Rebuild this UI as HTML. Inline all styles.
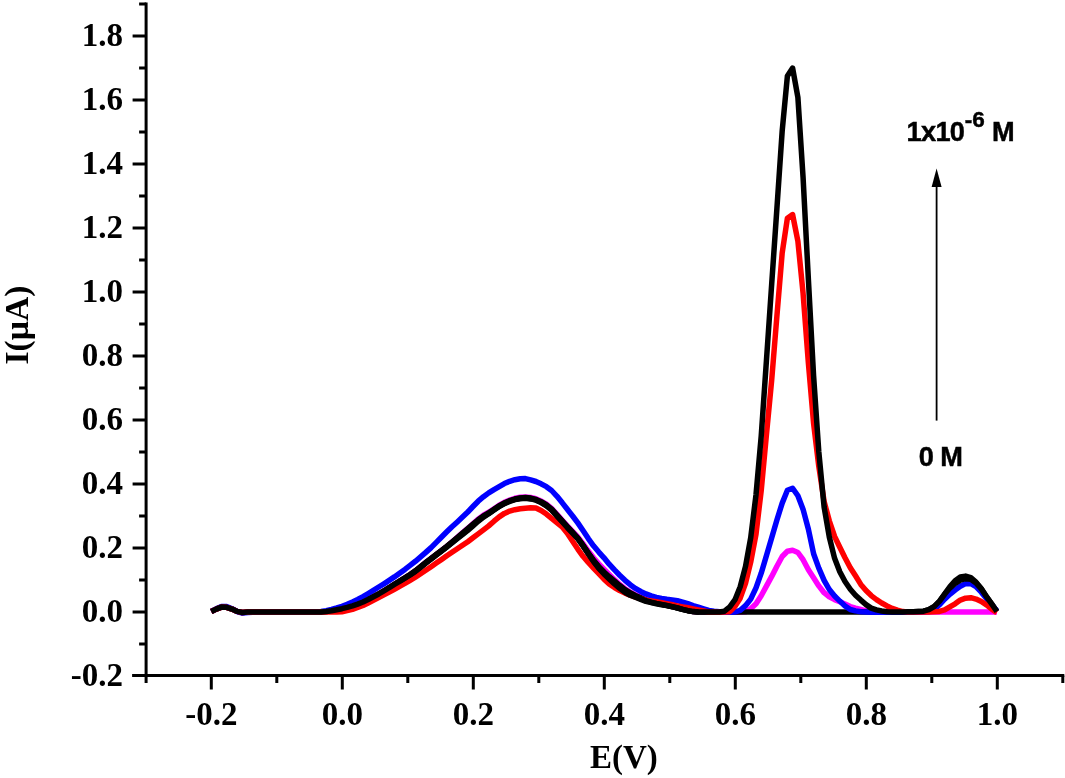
<!DOCTYPE html>
<html><head><meta charset="utf-8"><title>chart</title>
<style>
html,body{margin:0;padding:0;background:#fff;}
body{will-change:transform;width:1065px;height:778px;position:relative;overflow:hidden;font-family:"Liberation Serif",serif;font-weight:bold;color:#000;}
.yt{position:absolute;left:0;width:123px;text-align:right;font-size:33px;line-height:40px;height:40px;white-space:nowrap;}
.xt{position:absolute;top:693.5px;width:100px;text-align:center;font-size:33px;line-height:40px;height:40px;white-space:nowrap;}
.xtitle{position:absolute;left:573.8px;top:737px;width:100px;text-align:center;font-size:33px;line-height:40px;white-space:nowrap;}
.ytitle{position:absolute;left:-83px;top:304.5px;width:200px;height:40px;text-align:center;font-size:33.5px;line-height:40px;white-space:nowrap;transform:rotate(-90deg);transform-origin:50% 50%;}
.ann{position:absolute;font-family:"Liberation Sans",sans-serif;font-weight:bold;font-size:27.2px;letter-spacing:-0.7px;-webkit-text-stroke:0.45px #000;line-height:30px;white-space:nowrap;}
.ann sup{font-size:22.5px;letter-spacing:0;line-height:0;position:relative;top:-13.6px;left:0.5px;vertical-align:baseline;}
</style></head><body>
<svg width="1065" height="778" viewBox="0 0 1065 778" style="position:absolute;left:0;top:0">
<g stroke="#000" stroke-width="3.0" fill="none" stroke-linecap="butt">
<path d="M146.1,2.5 V683.0"/>
<path d="M132.1,675.6 H1064.3"/>
<path d="M139.1,644.0 H146.1 M132.6,612.0 H146.1 M139.1,580.0 H146.1 M132.6,548.0 H146.1 M139.1,516.0 H146.1 M132.6,484.0 H146.1 M139.1,452.0 H146.1 M132.6,420.0 H146.1 M139.1,388.0 H146.1 M132.6,356.0 H146.1 M139.1,324.0 H146.1 M132.6,292.0 H146.1 M139.1,260.0 H146.1 M132.6,228.0 H146.1 M139.1,196.0 H146.1 M132.6,164.0 H146.1 M139.1,132.0 H146.1 M132.6,100.0 H146.1 M139.1,68.0 H146.1 M132.6,36.0 H146.1 M139.1,4.0 H146.1 M211.3,675.6 V689.6 M276.8,675.6 V683.0 M342.3,675.6 V689.6 M407.8,675.6 V683.0 M473.3,675.6 V689.6 M538.8,675.6 V683.0 M604.3,675.6 V689.6 M669.8,675.6 V683.0 M735.3,675.6 V689.6 M800.8,675.6 V683.0 M866.3,675.6 V689.6 M931.8,675.6 V683.0 M997.3,675.6 V689.6 M1062.8,675.6 V683.0"/>
</g>
<g fill="none" stroke-width="5.5" stroke-linejoin="round" stroke-linecap="butt">
<path stroke="#ff00ff" d="M211.3,611.5 L216.2,609.1 L221.5,607.1 L226.7,607.3 L232.0,609.1 L237.2,611.4 L242.4,612.5 L247.7,612.1 L252.9,612.0 L258.2,612.0 L263.4,612.0 L268.6,612.0 L273.9,612.0 L279.1,612.0 L284.4,612.0 L289.6,612.0 L294.8,612.0 L300.1,612.0 L305.3,612.0 L310.6,612.0 L315.8,611.9 L321.0,611.9 L326.3,611.5 L331.5,610.7 L336.8,609.7 L342.0,608.7 L347.2,607.4 L352.5,605.9 L357.7,604.1 L363.0,602.0 L368.2,599.5 L373.4,596.8 L378.7,594.0 L383.9,591.0 L389.2,587.7 L394.4,584.4 L399.6,581.2 L404.9,577.9 L410.1,574.5 L415.4,570.8 L420.6,566.7 L425.8,562.5 L431.1,558.4 L436.3,554.4 L441.6,550.5 L446.8,546.4 L452.0,542.0 L457.3,537.4 L462.5,532.8 L467.8,528.3 L473.0,523.7 L478.2,519.2 L483.5,515.2 L488.7,512.2 L494.0,508.7 L499.2,505.2 L504.4,502.3 L509.7,500.0 L514.9,498.3 L520.2,497.3 L525.4,496.9 L530.6,497.4 L535.9,498.7 L541.1,501.0 L546.4,504.2 L551.6,508.4 L556.8,514.2 L562.1,520.1 L567.3,525.9 L572.6,531.5 L577.8,536.9 L583.0,543.7 L588.3,551.0 L593.5,557.7 L598.8,563.8 L604.0,569.2 L609.2,574.4 L614.5,579.6 L619.7,584.4 L625.0,588.7 L630.2,592.1 L635.4,594.7 L640.7,597.1 L645.9,599.4 L651.2,601.0 L656.4,602.3 L661.6,603.5 L666.9,604.7 L672.1,605.8 L677.4,607.1 L682.6,608.6 L687.8,610.2 L693.1,611.6 L698.3,611.8 L703.6,611.9 L708.8,612.0 L714.0,612.0 L719.3,612.0 L724.5,612.0 L729.8,612.0 L735.0,612.0 L740.2,612.0 L745.5,611.8 L750.7,608.8 L756.0,603.8 L761.2,595.7 L766.4,586.1 L771.7,576.4 L776.9,566.2 L782.2,556.5 L787.4,551.2 L792.6,550.3 L797.9,552.5 L803.1,559.7 L808.4,569.8 L813.6,577.8 L818.8,585.9 L824.1,592.7 L829.3,596.9 L834.6,599.6 L839.8,601.8 L845.0,604.1 L850.3,606.6 L855.5,608.2 L860.8,609.5 L866.0,610.8 L871.2,611.3 L876.5,611.6 L881.7,611.8 L887.0,611.9 L892.2,611.9 L897.4,611.9 L902.7,611.9 L907.9,611.9 L913.2,611.9 L918.4,611.9 L923.6,611.9 L928.9,611.9 L934.1,611.9 L939.4,611.9 L944.6,611.9 L949.8,611.9 L955.1,611.9 L960.3,611.9 L965.6,611.9 L970.8,611.9 L976.0,611.9 L981.3,611.9 L986.5,611.9 L991.8,611.9 L996.9,611.9"/>
<path stroke="#000000" d="M211.3,611.5 L216.2,609.1 L221.5,607.1 L226.7,607.3 L232.0,609.1 L237.2,611.4 L242.4,612.5 L247.7,612.1 L252.9,612.0 L258.2,612.0 L263.4,612.0 L268.6,612.0 L273.9,612.0 L279.1,612.0 L284.4,612.0 L289.6,612.0 L294.8,612.0 L300.1,612.0 L305.3,612.0 L310.6,612.0 L315.8,611.9 L321.0,611.9 L326.3,611.5 L331.5,610.7 L336.8,609.7 L342.0,608.7 L347.2,607.4 L352.5,605.9 L357.7,604.1 L363.0,602.0 L368.2,599.5 L373.4,596.8 L378.7,594.0 L383.9,591.0 L389.2,587.7 L394.4,584.4 L399.6,581.2 L404.9,577.9 L410.1,574.5 L415.4,570.8 L420.6,566.7 L425.8,562.5 L431.1,558.4 L436.3,554.4 L441.6,550.5 L446.8,546.4 L452.0,542.0 L457.3,537.5 L462.5,533.0 L467.8,528.6 L473.0,524.1 L478.2,519.8 L483.5,515.9 L488.7,512.9 L494.0,509.4 L499.2,505.9 L504.4,503.0 L509.7,500.7 L514.9,499.0 L520.2,498.0 L525.4,497.6 L530.6,498.1 L535.9,499.4 L541.1,501.7 L546.4,504.9 L551.6,509.1 L556.8,514.9 L562.1,520.8 L567.3,526.6 L572.6,532.3 L577.8,538.0 L583.0,545.2 L588.3,553.0 L593.5,560.2 L598.8,566.6 L604.0,572.0 L609.2,576.7 L614.5,581.2 L619.7,585.5 L625.0,589.6 L630.2,592.8 L635.4,595.4 L640.7,597.8 L645.9,600.1 L651.2,601.7 L656.4,603.0 L661.6,604.2 L666.9,605.4 L672.1,606.5 L677.4,607.8 L682.6,609.3 L687.8,610.6 L693.1,611.6 L698.3,612.0 L703.6,612.0 L708.8,611.9 L714.0,611.9 L719.3,611.9 L724.5,611.9 L729.8,611.9 L735.0,611.9 L740.2,611.9 L745.5,611.9 L750.7,611.9 L756.0,611.9 L761.2,611.9 L766.4,611.9 L771.7,611.9 L776.9,611.9 L782.2,611.9 L787.4,611.9 L792.6,611.9 L797.9,611.9 L803.1,611.9 L808.4,611.9 L813.6,611.9 L818.8,611.9 L824.1,611.9 L829.3,611.9 L834.6,611.9 L839.8,611.9 L845.0,611.9 L850.3,611.9 L855.5,611.9 L860.8,611.9 L866.0,611.9 L871.2,611.9 L876.5,611.9 L881.7,611.9 L887.0,611.9 L892.2,611.9 L897.4,611.9 L902.7,611.9 L907.9,611.8 L913.2,611.7 L918.4,611.5 L923.6,611.2 L928.9,609.7 L934.1,606.6 L939.4,601.4 L944.6,594.1 L949.8,586.9 L955.1,580.7 L960.3,577.0 L965.6,576.1 L970.8,577.7 L976.0,582.1 L981.3,588.8 L986.5,596.8 L991.8,604.2 L996.9,611.5"/>
<path stroke="#0000ff" d="M211.3,611.5 L216.2,608.8 L221.5,606.5 L226.7,606.6 L232.0,608.7 L237.2,611.5 L242.4,613.1 L247.7,612.5 L252.9,612.3 L258.2,612.2 L263.4,612.2 L268.6,612.1 L273.9,612.1 L279.1,612.1 L284.4,612.1 L289.6,612.1 L294.8,612.0 L300.1,612.0 L305.3,611.9 L310.6,611.8 L315.8,611.7 L321.0,611.4 L326.3,610.7 L331.5,609.4 L336.8,607.9 L342.0,606.3 L347.2,604.3 L352.5,601.9 L357.7,599.4 L363.0,596.6 L368.2,593.5 L373.4,590.3 L378.7,587.0 L383.9,583.8 L389.2,580.4 L394.4,576.9 L399.6,573.2 L404.9,569.4 L410.1,565.4 L415.4,561.3 L420.6,556.9 L425.8,552.4 L431.1,547.6 L436.3,542.4 L441.6,537.0 L446.8,531.8 L452.0,526.8 L457.3,522.0 L462.5,517.1 L467.8,512.0 L473.0,506.5 L478.2,501.2 L483.5,496.7 L488.7,492.9 L494.0,489.6 L499.2,486.6 L504.4,483.6 L509.7,481.3 L514.9,479.7 L520.2,478.7 L525.4,478.6 L530.6,479.9 L535.9,481.5 L541.1,483.8 L546.4,486.7 L551.6,490.5 L556.8,496.1 L562.1,502.6 L567.3,509.3 L572.6,516.0 L577.8,522.9 L583.0,530.5 L588.3,538.6 L593.5,545.8 L598.8,552.1 L604.0,557.8 L609.2,564.2 L614.5,569.9 L619.7,575.2 L625.0,580.3 L630.2,584.7 L635.4,588.4 L640.7,591.4 L645.9,593.9 L651.2,595.9 L656.4,597.4 L661.6,598.5 L666.9,599.3 L672.1,599.9 L677.4,600.7 L682.6,602.1 L687.8,603.7 L693.1,605.6 L698.3,607.1 L703.6,608.8 L708.8,610.4 L714.0,611.2 L719.3,611.8 L724.5,612.3 L729.8,612.2 L735.0,612.0 L740.2,610.3 L745.5,605.7 L750.7,599.1 L756.0,587.8 L761.2,573.2 L766.4,555.7 L771.7,537.7 L776.9,519.9 L782.2,503.1 L787.4,490.3 L792.6,488.2 L797.9,495.8 L803.1,509.4 L808.4,529.3 L813.6,553.7 L818.8,568.1 L824.1,580.3 L829.3,589.5 L834.6,596.0 L839.8,601.1 L845.0,605.9 L850.3,609.5 L855.5,610.9 L860.8,611.7 L866.0,612.0 L871.2,612.2 L876.5,612.3 L881.7,612.3 L887.0,612.3 L892.2,612.3 L897.4,612.3 L902.7,612.3 L907.9,612.3 L913.2,612.2 L918.4,612.2 L923.6,612.1 L928.9,611.6 L934.1,609.6 L939.4,604.8 L944.6,599.2 L949.8,594.3 L955.1,590.0 L960.3,586.3 L965.6,583.6 L970.8,583.7 L976.0,586.6 L981.3,592.2 L986.5,598.6 L991.8,604.8 L997.0,611.1 L997.2,611.3"/>
<path stroke="#ff0000" d="M211.3,611.5 L216.2,609.1 L221.5,607.1 L226.7,607.3 L232.0,609.1 L237.2,611.4 L242.4,612.5 L247.7,612.1 L252.9,612.0 L258.2,612.0 L263.4,612.0 L268.6,612.0 L273.9,612.0 L279.1,612.0 L284.4,612.0 L289.6,612.0 L294.8,612.0 L300.1,612.0 L305.3,612.0 L310.6,612.0 L315.8,612.0 L321.0,612.0 L326.3,612.0 L331.5,612.0 L336.8,612.0 L342.0,611.7 L347.2,610.6 L352.5,609.3 L357.7,607.5 L363.0,605.4 L368.2,602.9 L373.4,600.3 L378.7,597.6 L383.9,594.9 L389.2,592.1 L394.4,589.3 L399.6,586.4 L404.9,583.4 L410.1,580.3 L415.4,577.1 L420.6,573.7 L425.8,570.3 L431.1,566.7 L436.3,563.1 L441.6,559.4 L446.8,555.7 L452.0,552.2 L457.3,548.8 L462.5,545.3 L467.8,541.7 L473.0,537.8 L478.2,533.9 L483.5,529.9 L488.7,525.9 L494.0,521.2 L499.2,516.9 L504.4,513.4 L509.7,511.1 L514.9,509.7 L520.2,508.8 L525.4,508.2 L530.6,507.8 L535.9,507.9 L541.1,510.4 L546.4,514.1 L551.6,518.4 L556.8,522.5 L562.1,526.8 L567.3,533.2 L572.6,541.2 L577.8,549.1 L583.0,556.3 L588.3,562.5 L593.5,568.1 L598.8,573.7 L604.0,579.2 L609.2,583.9 L614.5,587.6 L619.7,590.6 L625.0,593.1 L630.2,595.2 L635.4,597.1 L640.7,598.7 L645.9,600.1 L651.2,601.0 L656.4,601.8 L661.6,602.7 L666.9,603.7 L672.1,604.8 L677.4,605.9 L682.6,606.9 L687.8,607.8 L693.1,608.9 L698.3,609.9 L703.6,611.0 L708.8,612.0 L714.0,612.1 L719.3,612.2 L724.5,612.1 L729.8,611.7 L735.0,606.3 L740.2,598.2 L745.5,583.3 L750.7,562.2 L756.0,534.2 L761.2,490.7 L766.4,435.1 L771.7,380.1 L776.9,316.1 L782.2,252.8 L787.4,218.2 L792.6,214.6 L797.9,241.2 L803.1,293.6 L808.4,363.4 L813.6,423.5 L818.8,466.4 L824.1,501.4 L829.3,520.8 L834.6,536.5 L839.8,547.3 L845.0,557.7 L850.3,567.7 L855.5,575.8 L860.8,584.4 L866.0,590.6 L871.2,595.6 L876.5,599.6 L881.7,603.0 L887.0,605.9 L892.2,608.4 L897.4,610.2 L902.7,611.6 L907.9,612.0 L913.2,612.0 L918.4,612.0 L923.6,612.0 L928.9,611.9 L934.1,611.8 L939.4,611.4 L944.6,609.9 L949.8,606.9 L955.1,603.8 L960.3,600.1 L965.6,598.2 L970.8,597.7 L976.0,599.1 L981.3,601.5 L986.5,604.9 L991.8,609.2 L996.9,612.6"/>
<path stroke="#000000" d="M400.0,581.0 L404.9,578.0 L410.1,574.7 L415.4,571.1 L420.6,567.0 L425.8,562.8 L431.1,558.7 L436.3,554.7 L441.6,550.7 L446.8,546.7 L452.0,542.5 L457.3,538.1 L462.5,533.8 L467.8,529.4 L473.0,524.9 L478.2,520.5 L483.5,516.5 L488.7,513.4 L494.0,509.7 L499.2,506.2 L504.4,503.3 L509.7,501.0 L514.9,499.3 L520.2,498.3 L525.4,498.0 L530.6,498.5 L535.9,499.8 L541.1,502.2 L546.4,505.4 L551.6,509.6 L556.8,515.3 L562.1,521.2 L567.3,527.0 L572.6,532.7 L577.8,538.4 L583.0,545.6 L588.3,553.4 L593.5,560.8 L598.8,567.5 L604.0,573.0 L609.2,577.8 L614.5,582.6 L619.7,586.9 L625.0,591.0 L630.2,594.1 L635.4,596.4 L640.7,598.6 L645.9,600.7 L651.2,602.2 L656.4,603.4 L661.6,604.4 L666.9,605.5 L672.1,606.6 L677.4,607.9 L682.6,609.4 L687.8,610.6 L693.1,611.6 L698.3,612.0 L698.7,612.0"/>
<path stroke="#000000" d="M211.3,611.5 L216.2,609.1 L221.5,607.1 L226.7,607.3 L232.0,609.1 L237.2,611.4 L242.4,612.5 L247.7,612.1 L252.9,612.0 L258.2,612.0 L263.4,612.0 L268.6,612.0 L273.9,612.0 L279.1,612.0 L284.4,612.0 L289.6,612.0 L294.8,612.0 L300.1,612.0 L305.3,612.0 L310.6,612.0 L315.8,611.9 L321.0,611.9 L326.3,611.5 L331.5,610.7 L336.8,609.7 L342.0,608.7 L347.2,607.4 L352.5,605.9 L357.7,604.1 L363.0,602.0 L368.2,599.5 L373.4,596.8 L378.7,594.0 L383.9,590.9 L389.2,587.7 L394.4,584.4 L399.6,581.3 L404.9,578.2 L410.1,575.0 L415.4,571.4 L420.6,567.4 L425.8,563.1 L431.1,559.0 L436.3,555.0 L441.6,551.0 L446.8,547.0 L452.0,542.9 L457.3,538.7 L462.5,534.6 L467.8,530.3 L473.0,525.8 L478.2,521.2 L483.5,517.1 L488.7,513.8 L494.0,510.1 L499.2,506.5 L504.4,503.6 L509.7,501.4 L514.9,499.6 L520.2,498.7 L525.4,498.3 L530.6,498.9 L535.9,500.2 L541.1,502.6 L546.4,505.8 L551.6,510.1 L556.8,515.8 L562.1,521.7 L567.3,527.5 L572.6,533.1 L577.8,538.7 L583.0,545.9 L588.3,553.9 L593.5,561.5 L598.8,568.3 L604.0,574.0 L609.2,579.0 L614.5,583.9 L619.7,588.3 L625.0,592.4 L630.2,595.3 L635.4,597.3 L640.7,599.4 L645.9,601.3 L651.2,602.6 L656.4,603.7 L661.6,604.7 L666.9,605.6 L672.1,606.7 L677.4,608.0 L682.6,609.4 L687.8,610.7 L693.1,611.6 L698.3,612.0 L703.6,612.0 L708.8,612.0 L714.0,612.0 L719.3,612.0 L724.5,611.2 L729.8,606.9 L735.0,599.7 L740.2,586.7 L745.5,566.4 L750.7,537.8 L756.0,494.8 L761.2,436.3 L766.4,361.0 L771.7,283.9 L776.9,208.5 L782.2,130.7 L787.4,76.0 L792.6,68.1 L797.9,97.5 L803.1,178.0 L808.4,279.7 L813.6,375.8 L818.8,451.8 L824.1,507.0 L829.3,537.0 L834.6,558.3 L839.8,571.7 L845.0,581.5 L850.3,589.2 L855.5,595.2 L860.8,600.1 L866.0,604.6 L871.2,608.1 L876.5,609.9 L881.7,611.0 L887.0,611.7 L892.2,611.9 L897.4,611.9 L902.7,611.9 L907.9,611.8 L913.2,611.7 L918.4,611.5 L923.6,611.2 L928.9,609.7 L934.1,606.6 L939.4,601.4 L944.6,594.3 L949.8,588.1 L955.1,583.5 L960.3,580.1 L965.6,578.7 L970.8,579.2 L976.0,582.9 L981.3,588.9 L986.5,596.7 L991.8,604.1 L996.9,611.5"/>
</g>
<path d="M936.6,420.6 V185" stroke="#000" stroke-width="1.8" fill="none"/>
<path d="M936.6,168.4 L941.6,187 H931.6 Z" fill="#000"/>
</svg>
<div class="yt" style="top:655.0px">-0.2</div>
<div class="yt" style="top:591.0px">0.0</div>
<div class="yt" style="top:527.0px">0.2</div>
<div class="yt" style="top:463.0px">0.4</div>
<div class="yt" style="top:399.0px">0.6</div>
<div class="yt" style="top:335.0px">0.8</div>
<div class="yt" style="top:271.0px">1.0</div>
<div class="yt" style="top:207.0px">1.2</div>
<div class="yt" style="top:143.0px">1.4</div>
<div class="yt" style="top:79.0px">1.6</div>
<div class="yt" style="top:15.0px">1.8</div>
<div class="xt" style="left:161.3px">-0.2</div>
<div class="xt" style="left:292.3px">0.0</div>
<div class="xt" style="left:423.3px">0.2</div>
<div class="xt" style="left:554.3px">0.4</div>
<div class="xt" style="left:685.3px">0.6</div>
<div class="xt" style="left:816.3px">0.8</div>
<div class="xt" style="left:947.3px">1.0</div>
<div class="xtitle">E(V)</div>
<div class="ytitle">I(µA)</div>
<div class="ann" style="left:906.6px;top:117px">1x10<sup>-6</sup><span style="margin-left:0.8px"> M</span></div>
<div class="ann" style="left:918.8px;top:442px;word-spacing:0.2px">0 M</div>
</body></html>
